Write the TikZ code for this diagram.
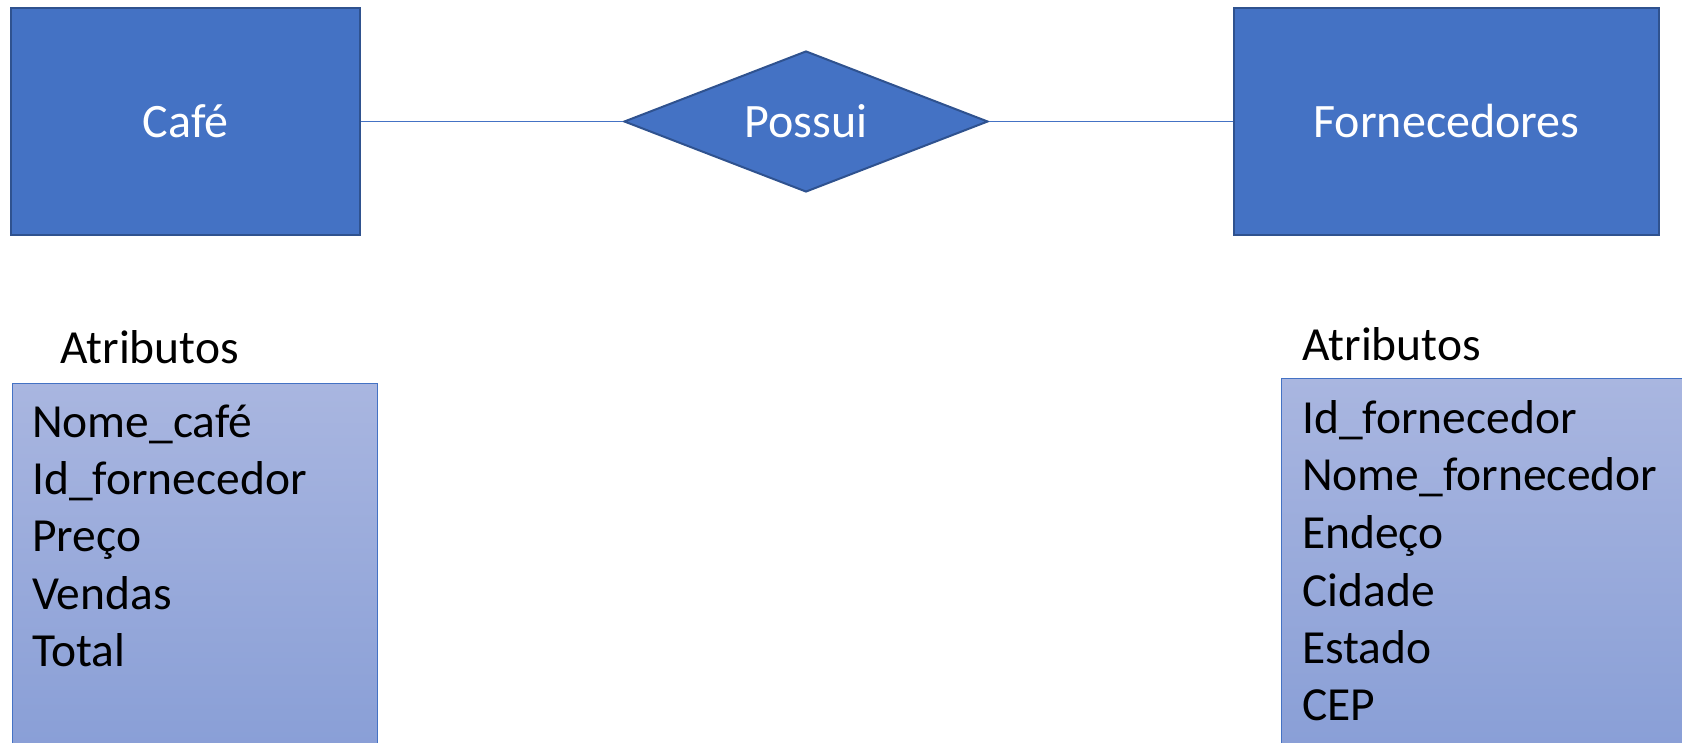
\documentclass[tikz,border=0pt]{standalone}
\usepackage{fontspec}
\setmainfont{Carlito}
\usetikzlibrary{shapes.geometric}
\definecolor{entfill}{HTML}{4472C4}
\definecolor{entline}{HTML}{2F528F}
\definecolor{attrtop}{RGB}{169,182,224}
\definecolor{attrbot}{RGB}{136,158,214}
\tikzset{
  entity/.style={draw=entline, line width=2pt, fill=entfill, text=white,
    rectangle, inner sep=0pt, minimum height=227pt,
    font=\fontsize{48}{57}\selectfont},
  relation/.style={draw=entline, line width=2pt, fill=entfill, text=white,
    diamond, aspect=2.58, inner sep=0pt, minimum width=364pt, minimum height=141pt,
    font=\fontsize{48}{57}\selectfont},
  link/.style={draw=entfill, line width=1.5pt},
  attrbox/.style={draw=entfill, line width=1pt, top color=attrtop, bottom color=attrbot},
  attr/.style={anchor=base west, inner sep=0pt, text=black,
    font=\fontsize{47.5}{57}\selectfont},
}
\begin{document}
\begin{tikzpicture}[x=1pt,y=1pt]
  \useasboundingbox (0,0) rectangle (1682,-743);
  \clip (0,0) rectangle (1682,-743);

  % entities and relationship
  \node[entity, minimum width=349pt] (cafe) at (185.5,-121.5) {Café};
  \node[entity, minimum width=425pt] (forn) at (1446.5,-121.5) {Fornecedores};
  \node[relation] (rel) at (806,-121.5) {Possui};
  \draw[link] (cafe.east) -- (rel.west);
  \draw[link] (rel.east) -- (forn.west);

  % attribute lists
  \path[attrbox] (12,-383) rectangle (377,-760);
  \path[attrbox] (1281,-379) rectangle (1700,-760);

  \node[attr] (ta) at (60,-363) {Atributos};
  \node[attr] (a1) at (32,-437) {Nome\_café};
  \node[attr] (a2) at (32,-494) {Id\_fornecedor};
  \node[attr] (a3) at (32,-551) {Preço};
  \node[attr] (a4) at (32,-609) {Vendas};
  \node[attr] (a5) at (32,-666) {Total};

  \node[attr] (tb) at (1302,-360) {Atributos};
  \node[attr] (b1) at (1302,-433) {Id\_fornecedor};
  \node[attr] (b2) at (1302,-490) {Nome\_fornecedor};
  \node[attr] (b3) at (1302,-548) {Endeço};
  \node[attr] (b4) at (1302,-606) {Cidade};
  \node[attr] (b5) at (1302,-663) {Estado};
  \node[attr] (b6) at (1302,-720) {CEP};
\end{tikzpicture}
\end{document}
